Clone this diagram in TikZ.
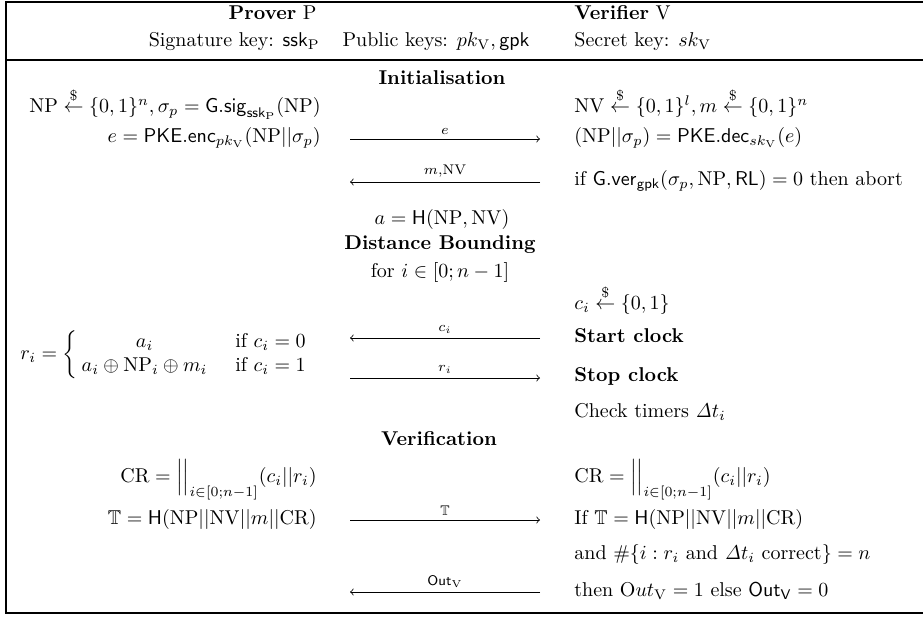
\documentclass[tikz,border=0pt]{standalone}
\usepackage{amsmath}
\usepackage{amssymb}
\usetikzlibrary{arrows}

\tikzstyle{prover} = [anchor=mid east, inner sep=0pt]
\tikzstyle{verifier} = [anchor=mid west, inner sep=0pt]
\tikzstyle{channel} = [anchor=mid, inner sep=0pt]
\tikzstyle{msg} = [thin, ->, >=to]
\tikzstyle{msglabel} = [above, font=\scriptsize, inner sep=2pt]
\tikzstyle{frame} = [line width=0.6pt]

\newcommand{\rnd}{\stackrel{\$}{\leftarrow}}

\begin{document}
\begin{tikzpicture}[x=0.5pt, y=-0.5pt]

\useasboundingbox (0,0) rectangle (923,617);
\draw [frame] (923,2) -- (6,2) -- (6,613) -- (923,613);
\draw [frame] (6,60) -- (923,60);

% header
\node (prv) [prover] at (317,15) {\textbf{Prover} P};
\node (ssk) [prover] at (320,42) {Signature key: $\mathsf{ssk}_{\mathrm{P}}$};
\node (pub) [channel] at (436,42) {Public keys: $pk_{\mathrm{V}}, \mathsf{gpk}$};
\node (ver) [verifier] at (574,15) {\textbf{Verifier} V};
\node (sk) [verifier] at (574,42) {Secret key: $sk_{\mathrm{V}}$};

% initialisation
\node (init) [channel] at (442,80) {\textbf{Initialisation}};
\node (np) [prover] at (321,108) {$\mathrm{NP} \rnd \{0,1\}^n, \sigma_p = \mathsf{G.sig}_{\mathsf{ssk}_{\mathrm{P}}}(\mathrm{NP})$};
\node (nv) [verifier] at (574,108) {$\mathrm{NV} \rnd \{0,1\}^l, m \rnd \{0,1\}^n$};
\node (enc) [prover] at (321,138) {$e = \mathsf{PKE.enc}_{pk_{\mathrm{V}}}(\mathrm{NP}||\sigma_p)$};
\node (dec) [verifier] at (574,138) {$(\mathrm{NP}||\sigma_p) = \mathsf{PKE.dec}_{sk_{\mathrm{V}}}(e)$};
\node (gver) [verifier] at (574,181) {if $\mathsf{G.ver}_{\mathsf{gpk}}(\sigma_p, \mathrm{NP}, \mathsf{RL}) = 0$ then abort};
\node (ha) [channel] at (442,220) {$a = \mathsf{H}(\mathrm{NP}, \mathrm{NV})$};

% distance bounding
\node (db) [channel] at (440,245) {\textbf{Distance Bounding}};
\node (loop) [channel] at (440,273) {for $i \in [0; n-1]$};
\node (ci) [verifier] at (574,305) {$c_i \rnd \{0,1\}$};
\node (start) [verifier] at (574,338) {\textbf{Start clock}};
\node (ri) [anchor=mid west, inner sep=0pt] at (20,355) {$r_i = \left\{ \arraycolsep=2pt \begin{array}{cl} a_i & \quad\text{if } c_i = 0 \\ a_i \oplus \mathrm{NP}_i \oplus m_i & \quad\text{if } c_i = 1 \end{array} \right.$};
\node (stop) [verifier] at (574,377) {\textbf{Stop clock}};
\node (chk) [verifier] at (574,413) {Check timers $\mathit{\Delta} t_i$};

% verification
\node (verif) [channel] at (439,441) {\textbf{Verification}};
\node (crp) [prover] at (317,478) {$\mathrm{CR} = \Big|\Big|_{i \in [0;n-1]} (c_i||r_i)$};
\node (crv) [verifier] at (574,478) {$\mathrm{CR} = \Big|\Big|_{i \in [0;n-1]} (c_i||r_i)$};
\node (tp) [prover] at (317,520) {$\mathbb{T} = \mathsf{H}(\mathrm{NP}||\mathrm{NV}||m||\mathrm{CR})$};
\node (tv) [verifier] at (574,520) {If $\mathbb{T} = \mathsf{H}(\mathrm{NP}||\mathrm{NV}||m||\mathrm{CR})$};
\node (cnt) [verifier] at (574,555) {and $\#\{i : r_i$ and $\mathit{\Delta} t_i$ correct$\} = n$};
\node (out) [verifier] at (574,592) {then $\mathrm{O}ut_{\mathrm{V}} = 1$ else $\mathsf{Out}_{\mathsf{V}} = 0$};

% messages
\coordinate (eA) at (350,139);
\coordinate (eB) at (540,139);
\coordinate (mA) at (350,182);
\coordinate (mB) at (540,182);
\coordinate (cA) at (350,338);
\coordinate (cB) at (540,338);
\coordinate (rA) at (350,378);
\coordinate (rB) at (540,378);
\coordinate (tA) at (350,520);
\coordinate (tB) at (540,520);
\coordinate (oA) at (350,592);
\coordinate (oB) at (540,592);

\draw [msg] (eA) -- node[msglabel] {$e$} (eB);
\draw [msg] (mB) -- node[msglabel] {$m$,NV} (mA);
\draw [msg] (cB) -- node[msglabel] {$c_i$} (cA);
\draw [msg] (rA) -- node[msglabel] {$r_i$} (rB);
\draw [msg] (tA) -- node[msglabel] {$\mathbb{T}$} (tB);
\draw [msg] (oB) -- node[msglabel] {$\mathsf{Out}_{\mathrm{V}}$} (oA);

\end{tikzpicture}
\end{document}
